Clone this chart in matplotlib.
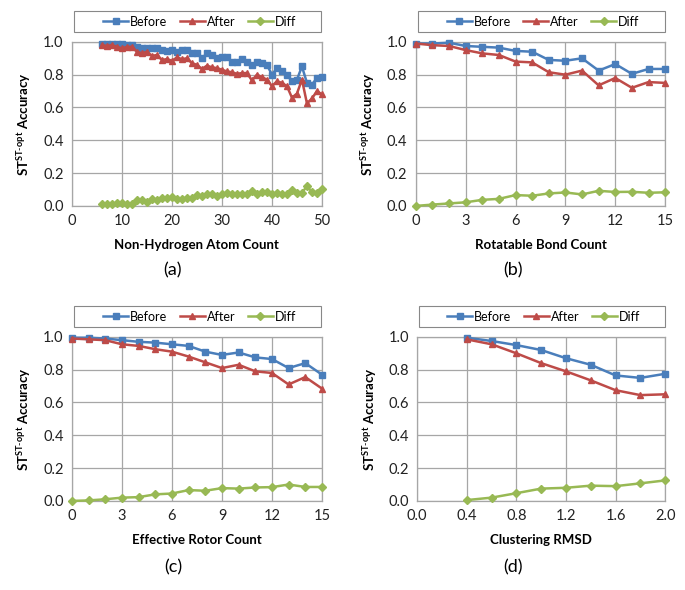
import matplotlib.pyplot as plt
from matplotlib.patches import Rectangle

plt.rcParams['font.family'] = ['Lato', 'DejaVu Sans']
plt.rcParams['mathtext.fontset'] = 'custom'
plt.rcParams['mathtext.rm'] = 'Lato'
plt.rcParams['mathtext.bf'] = 'Lato:bold'

# (a) non-hydrogen atom count
x_a = list(range(6, 51))
before_a = [0.99, 0.99, 0.99, 0.99, 0.985, 0.98, 0.98, 0.97, 0.96, 0.965,
            0.96, 0.96, 0.95, 0.945, 0.95, 0.94, 0.95, 0.95, 0.93, 0.935,
            0.90, 0.93, 0.92, 0.90, 0.91, 0.905, 0.88, 0.88, 0.895, 0.88,
            0.86, 0.875, 0.87, 0.86, 0.80, 0.84, 0.82, 0.80, 0.76, 0.77,
            0.85, 0.75, 0.74, 0.78, 0.785]
after_a = [0.98, 0.975, 0.98, 0.97, 0.96, 0.97, 0.97, 0.94, 0.93, 0.94,
           0.915, 0.92, 0.89, 0.895, 0.885, 0.905, 0.895, 0.90, 0.87, 0.86,
           0.835, 0.855, 0.845, 0.84, 0.83, 0.82, 0.815, 0.805, 0.81, 0.81,
           0.765, 0.80, 0.785, 0.77, 0.73, 0.76, 0.75, 0.73, 0.66, 0.685,
           0.77, 0.625, 0.655, 0.70, 0.68]
diff_a = [0.01, 0.01, 0.01, 0.015, 0.02, 0.01, 0.01, 0.035, 0.035, 0.025,
          0.045, 0.035, 0.05, 0.05, 0.055, 0.045, 0.045, 0.05, 0.05, 0.065,
          0.06, 0.07, 0.07, 0.06, 0.075, 0.08, 0.07, 0.07, 0.075, 0.07,
          0.09, 0.075, 0.085, 0.085, 0.075, 0.08, 0.075, 0.075, 0.10, 0.08,
          0.08, 0.12, 0.085, 0.08, 0.105]

# (b) rotatable bond count
x_b = list(range(0, 16))
before_b = [0.99, 0.99, 0.995, 0.975, 0.97, 0.965, 0.945, 0.94, 0.89, 0.885,
            0.90, 0.825, 0.865, 0.805, 0.835, 0.835]
after_b = [0.99, 0.98, 0.975, 0.95, 0.93, 0.92, 0.88, 0.875, 0.815, 0.80,
           0.825, 0.735, 0.78, 0.72, 0.755, 0.75]
diff_b = [0.0, 0.008, 0.015, 0.022, 0.037, 0.043, 0.066, 0.062, 0.076, 0.082,
          0.07, 0.092, 0.085, 0.086, 0.08, 0.083]

# (c) effective rotor count
x_c = list(range(0, 16))
before_c = [0.995, 0.995, 0.99, 0.98, 0.97, 0.965, 0.955, 0.945, 0.91, 0.89,
            0.905, 0.875, 0.865, 0.81, 0.84, 0.77]
after_c = [0.99, 0.985, 0.98, 0.955, 0.945, 0.925, 0.91, 0.88, 0.845, 0.81,
           0.83, 0.79, 0.78, 0.71, 0.755, 0.685]
diff_c = [0.0, 0.003, 0.01, 0.02, 0.023, 0.04, 0.045, 0.066, 0.062, 0.078,
          0.075, 0.082, 0.084, 0.10, 0.085, 0.085]

# (d) clustering RMSD
x_d = [0.4, 0.6, 0.8, 1.0, 1.2, 1.4, 1.6, 1.8, 2.0]
before_d = [0.995, 0.975, 0.95, 0.92, 0.87, 0.83, 0.765, 0.75, 0.775]
after_d = [0.985, 0.955, 0.90, 0.84, 0.79, 0.735, 0.675, 0.645, 0.65]
diff_d = [0.005, 0.02, 0.047, 0.075, 0.08, 0.093, 0.09, 0.107, 0.125]

panels = [
    (x_a, before_a, after_a, diff_a, 'Non-Hydrogen Atom Count', '(a)', (0, 50), [0, 10, 20, 30, 40, 50], '%d'),
    (x_b, before_b, after_b, diff_b, 'Rotatable Bond Count', '(b)', (0, 15), [0, 3, 6, 9, 12, 15], '%d'),
    (x_c, before_c, after_c, diff_c, 'Effective Rotor Count', '(c)', (0, 15), [0, 3, 6, 9, 12, 15], '%d'),
    (x_d, before_d, after_d, diff_d, 'Clustering RMSD', '(d)', (0, 2.0), [0, 0.4, 0.8, 1.2, 1.6, 2.0], '%.1f'),
]

# axes rectangles in figure fractions
rects = [
    [0.105, 0.651, 0.365, 0.278],
    [0.607, 0.651, 0.364, 0.278],
    [0.105, 0.151, 0.365, 0.278],
    [0.609, 0.151, 0.362, 0.278],
]
tag_pos = [(173, 270), (513, 270), (173, 567), (513, 567)]

blue = '#4A7EBB'
red = '#BE4B48'
green = '#98B954'
grid_c = '#A6A6A6'

fig = plt.figure(figsize=(6.85, 5.9), dpi=100)

for (x, b, a, d, xlab, tag, xlim, xt, fmt), r, tp in zip(panels, rects, tag_pos):
    ax = fig.add_axes(r)
    ax.plot(x, b, color=blue, marker='s', ms=4.2, lw=1.8, label='Before', clip_on=False, zorder=4)
    ax.plot(x, a, color=red, marker='^', ms=5, lw=1.8, label='After', clip_on=False, zorder=4)
    ax.plot(x, d, color=green, marker='D', ms=3.6, lw=1.8, label='Diff', clip_on=False, zorder=4)
    ax.set_xlim(*xlim)
    ax.set_ylim(0, 1.0)
    ax.set_xticks(xt)
    ax.set_xticklabels([fmt % v for v in xt])
    ax.set_yticks([0, 0.2, 0.4, 0.6, 0.8, 1.0])
    ax.set_yticklabels(['%.1f' % v for v in [0, 0.2, 0.4, 0.6, 0.8, 1.0]])
    ax.grid(True, color=grid_c, lw=0.9)
    ax.set_axisbelow(True)
    for s in ax.spines.values():
        s.set_color(grid_c)
        s.set_linewidth(0.9)
    ax.tick_params(length=0, labelsize=10.5, pad=6, colors='#222222')
    ax.set_xlabel(xlab, fontsize=9.5, fontweight='bold', labelpad=8)
    ax.set_ylabel(r'ST$^{\mathbf{ST\text{-}opt}}$ Accuracy', fontsize=9.5,
                  fontweight='bold', labelpad=7)
    # legend box spanning the plot width
    box = Rectangle((0.008, 1.06), 0.99, 0.128, transform=ax.transAxes,
                    facecolor='white', edgecolor='#888888', lw=0.8, clip_on=False)
    ax.add_patch(box)
    ax.legend(loc='center', bbox_to_anchor=(0.51, 1.06 + 0.064), ncol=3,
              frameon=False, fontsize=9, handlelength=2.0, handletextpad=0.15,
              columnspacing=1.0, borderaxespad=0, borderpad=0)
    fig.text(tp[0] / 685, 1 - tp[1] / 590, tag, fontsize=13, ha='center', va='center')

fig.savefig('out.png', dpi=100)
